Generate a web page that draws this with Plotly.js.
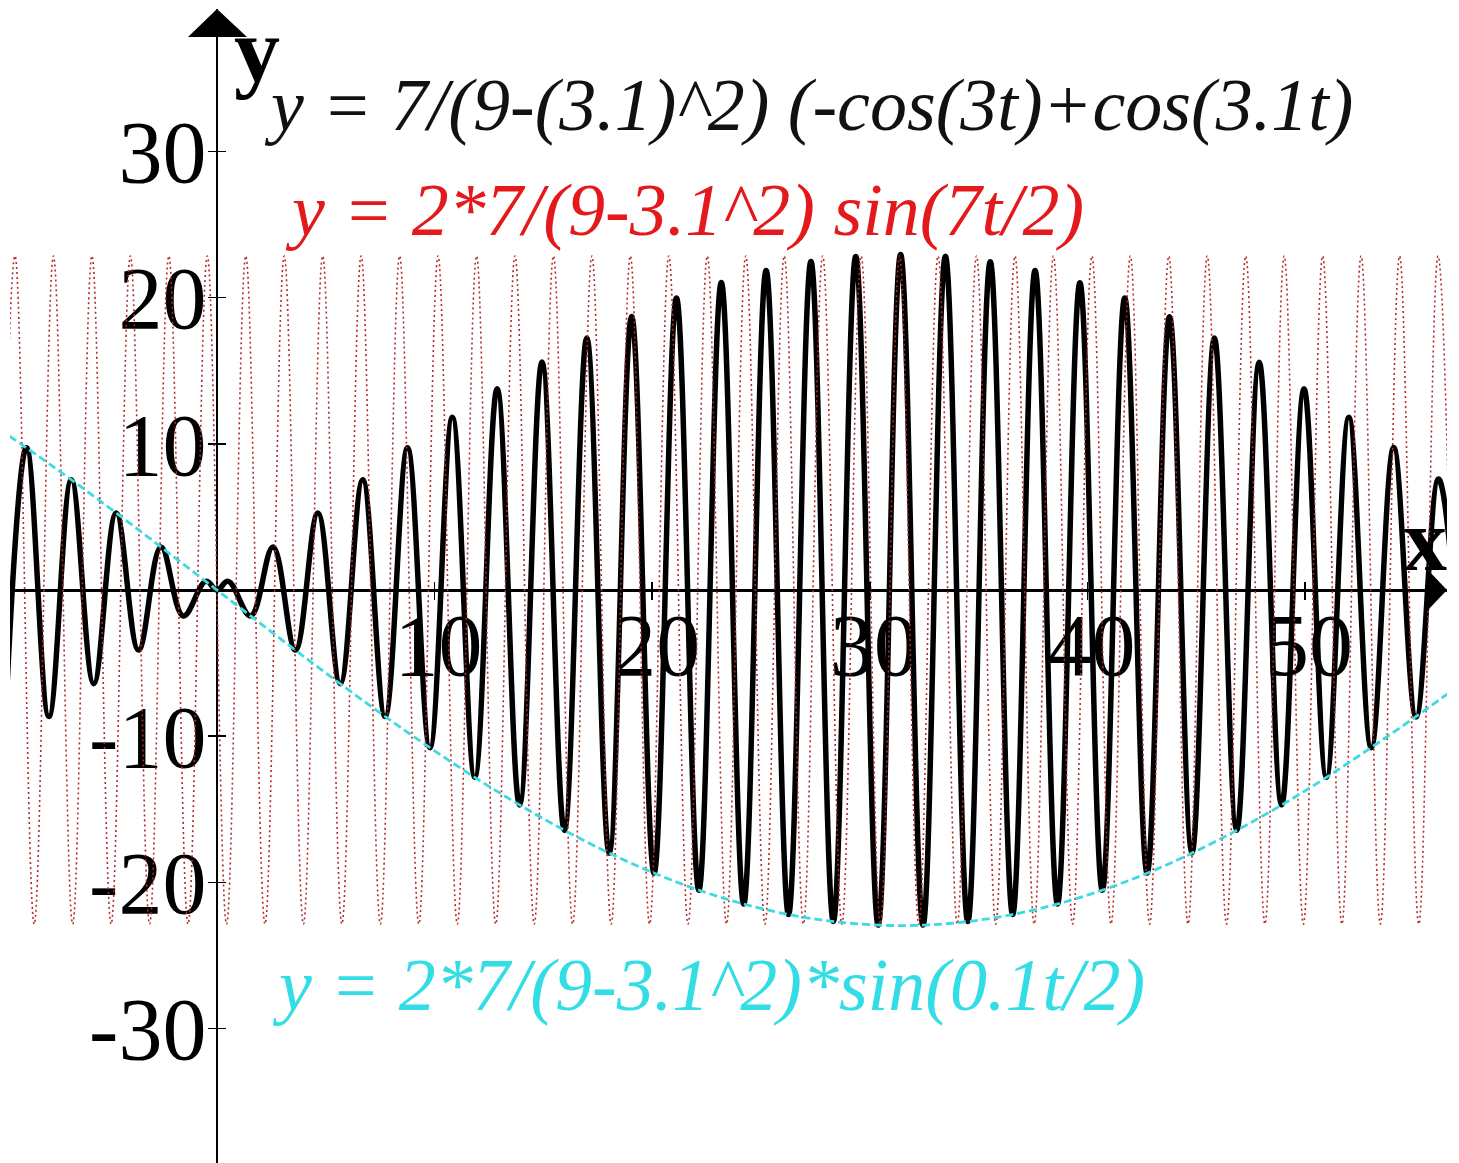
<!DOCTYPE html>
<html>
<head>
<meta charset="utf-8">
<script src="https://cdn.plot.ly/plotly-3.0.1.min.js"></script>
<style>html,body{margin:0;padding:0;background:#fff;}#chart{width:1459px;height:1163px;}</style>
</head>
<body>
<div id="chart"></div>
<script>
// Black curve: y = 7/(9-(3.1)^2) (-cos(3t)+cos(3.1t)) — extrema
const blackX = [-9.785, -8.755, -7.725, -6.695, -5.665, -4.635, -3.605, -2.575, -1.545, -0.515, 0, 0.515, 1.545, 2.575, 3.605, 4.635, 5.665, 6.695, 7.725, 8.755, 9.785, 10.815, 11.845, 12.875, 13.905, 14.935, 15.965, 16.995, 18.025, 19.055, 20.085, 21.115, 22.145, 23.175, 24.205, 25.235, 26.265, 27.295, 28.325, 29.355, 30.385, 31.415, 32.445, 33.475, 34.505, 35.535, 36.565, 37.595, 38.625, 39.655, 40.685, 41.715, 42.745, 43.775, 44.805, 45.835, 46.865, 47.895, 48.925, 49.955, 50.985, 52.015, 53.045, 54.075, 55.105, 56.135, 57.165];
const blackY = [-10.79, 9.73, -8.65, 7.54, -6.41, 5.27, -4.11, 2.95, -1.77, 0.59, 0, 0.59, -1.77, 2.95, -4.11, 5.27, -6.41, 7.54, -8.65, 9.73, -10.79, 11.82, -12.81, 13.77, -14.70, 15.59, -16.44, 17.24, -18.00, 18.71, -19.36, 19.98, -20.53, 21.03, -21.48, 21.86, -22.20, 22.47, -22.67, 22.82, -22.92, 22.95, -22.92, 22.83, -22.68, 22.46, -22.19, 21.86, -21.47, 21.02, -20.53, 19.97, -19.35, 18.69, -17.98, 17.23, -16.43, 15.58, -14.69, 13.76, -12.80, 11.81, -10.79, 9.75, -8.68, 7.59, -6.45];

// Red dotted curve: y = 2*7/(9-3.1^2) sin(7t/2) — extrema
const redX = [-10.167, -9.283, -8.400, -7.516, -6.632, -5.748, -4.865, -3.981, -3.097, -2.213, -1.330, -0.446, 0.438, 1.322, 2.205, 3.089, 3.973, 4.857, 5.740, 6.624, 7.508, 8.392, 9.275, 10.159, 11.043, 11.927, 12.810, 13.694, 14.578, 15.462, 16.345, 17.229, 18.113, 18.997, 19.880, 20.764, 21.648, 22.532, 23.415, 24.299, 25.183, 26.067, 26.950, 27.834, 28.718, 29.602, 30.485, 31.369, 32.253, 33.137, 34.020, 34.904, 35.788, 36.672, 37.555, 38.439, 39.323, 40.207, 41.090, 41.974, 42.858, 43.742, 44.625, 45.509, 46.393, 47.277, 48.160, 49.044, 49.928, 50.812, 51.695, 52.579, 53.463, 54.347, 55.230, 56.114, 56.998];
const redY = [-22.85, 22.85, -22.85, 22.85, -22.85, 22.85, -22.85, 22.85, -22.85, 22.85, -22.85, 22.85, -22.85, 22.85, -22.85, 22.85, -22.85, 22.85, -22.85, 22.85, -22.85, 22.85, -22.85, 22.85, -22.85, 22.85, -22.85, 22.85, -22.85, 22.85, -22.85, 22.85, -22.85, 22.85, -22.85, 22.85, -22.85, 22.85, -22.85, 22.85, -22.85, 22.85, -22.85, 22.85, -22.85, 22.85, -22.85, 22.85, -22.85, 22.85, -22.85, 22.85, -22.85, 22.85, -22.85, 22.85, -22.85, 22.85, -22.85, 22.85, -22.85, 22.85, -22.85, 22.85, -22.85, 22.85, -22.85, 22.85, -22.85, 22.85, -22.85, 22.85, -22.85, 22.85, -22.85, 22.85, -22.85];

// Cyan dashed envelope: y = 2*7/(9-3.1^2)*sin(0.1t/2)
const cyanX = [-10, -7.5, -5, -2.5, 0, 2.5, 5, 7.5, 10, 12.5, 15, 17.5, 20, 22.5, 25, 27.5, 30, 32.5, 35, 37.5, 40, 42.5, 45, 47.5, 50, 52.5, 55, 57.5];
const cyanY = [11.00, 8.41, 5.68, 2.86, 0, -2.86, -5.68, -8.41, -11.00, -13.43, -15.64, -17.61, -19.31, -20.71, -21.78, -22.51, -22.89, -22.92, -22.58, -21.90, -20.87, -19.52, -17.86, -15.92, -13.74, -11.32, -8.76, -6.07];

// Ticks
const xTickVals = [10, 20, 30, 40, 50];
const xTickText = ["10", "20", "30", "40", "50"];
const yTickVals = [-30, -20, -10, 10, 20, 30];
const yTickText = ["-30", "-20", "-10", "10", "20", "30"];

const xRange = [-9.513, 56.526];
const yRange = [-39.19, 39.74];

const serif = "Liberation Serif, Times New Roman, serif";

const traces = [
  {x: blackX, y: blackY, type: 'scatter', mode: 'lines',
   line: {color: '#000000', width: 5.5, shape: 'spline', smoothing: 1.1}, hoverinfo: 'skip', showlegend: false},
  {x: redX, y: redY, type: 'scatter', mode: 'lines',
   line: {color: '#b52a2a', width: 1.6, dash: '2px,3px', shape: 'spline', smoothing: 1.1}, hoverinfo: 'skip', showlegend: false},
  {x: cyanX, y: cyanY, type: 'scatter', mode: 'lines',
   line: {color: '#3cdbe2', width: 2.8, dash: '8px,4px', shape: 'spline', smoothing: 1}, hoverinfo: 'skip', showlegend: false},
  {x: [], y: [], type: 'scatter', mode: 'lines', xaxis: 'x2', yaxis: 'y2', hoverinfo: 'skip', showlegend: false}
];

const xPos = 0.4965;
const yPos = 0.14405;

const layout = {
  width: 1459, height: 1163,
  margin: {l: 10, r: 12, t: 9, b: 0, pad: 0},
  paper_bgcolor: '#ffffff', plot_bgcolor: '#ffffff',
  showlegend: false,
  xaxis: {
    range: xRange, anchor: 'free', position: xPos,
    showline: true, linecolor: '#000', linewidth: 2.5,
    ticks: 'outside', ticklen: 8, tickwidth: 1.5, tickcolor: '#000',
    tickvals: xTickVals, ticktext: xTickText,
    tickfont: {family: serif, size: 88, color: '#000'},
    ticklabelshift: 4, ticklabelstandoff: -30,
    showgrid: false, zeroline: false, layer: 'below traces', fixedrange: true
  },
  yaxis: {
    range: yRange, anchor: 'free', position: yPos,
    showline: true, linecolor: '#000', linewidth: 2.5,
    ticks: 'outside', ticklen: 8, tickwidth: 1.5, tickcolor: '#000',
    tickvals: yTickVals, ticktext: yTickText,
    tickfont: {family: serif, size: 88, color: '#000'},
    ticklabelstandoff: -16,
    showgrid: false, zeroline: false, layer: 'below traces', fixedrange: true
  },
  xaxis2: {
    range: xRange, overlaying: 'x', anchor: 'free', position: xPos,
    showline: false, ticks: 'inside', ticklen: 8, tickwidth: 1.5, tickcolor: '#000',
    tickvals: xTickVals, showticklabels: false, showgrid: false, zeroline: false, fixedrange: true
  },
  yaxis2: {
    range: yRange, overlaying: 'y', anchor: 'free', position: yPos,
    showline: false, ticks: 'inside', ticklen: 8, tickwidth: 1.5, tickcolor: '#000',
    tickvals: yTickVals, showticklabels: false, showgrid: false, zeroline: false, fixedrange: true
  },
  shapes: [
    {type: 'path', xref: 'x', xsizemode: 'pixel', xanchor: 0,
     yref: 'paper', ysizemode: 'pixel', yanchor: 1,
     path: 'M-29,-28 L0,0 L30,-28 Z', fillcolor: '#000', line: {width: 0}},
    {type: 'path', xref: 'paper', xsizemode: 'pixel', xanchor: 1,
     yref: 'y', ysizemode: 'pixel', yanchor: 0,
     path: 'M-20,21 L0,0 L-20,-21 Z', fillcolor: '#000', line: {width: 0}}
  ],
  annotations: [
    {text: 'y = 7/(9-(3.1)^2) (-cos(3t)+cos(3.1t)', xref: 'paper', yref: 'paper',
     x: 0.1754, y: 0.9168, xanchor: 'left', yanchor: 'middle', showarrow: false,
     font: {family: serif, size: 74, color: '#111111', style: 'italic'}},
    {text: 'y = 2*7/(9-3.1^2) sin(7t/2)', xref: 'paper', yref: 'paper',
     x: 0.19, y: 0.8258, xanchor: 'left', yanchor: 'middle', showarrow: false,
     font: {family: serif, size: 74, color: '#e3191c', style: 'italic'}},
    {text: 'y = 2*7/(9-3.1^2)*sin(0.1t/2)', xref: 'paper', yref: 'paper',
     x: 0.181, y: 0.1542, xanchor: 'left', yanchor: 'middle', showarrow: false,
     font: {family: serif, size: 74, color: '#33dde6', style: 'italic'}},
    {text: 'y', xref: 'paper', yref: 'paper',
     x: 0.1719, y: 0.9645, xanchor: 'center', yanchor: 'middle', showarrow: false,
     font: {family: serif, size: 92, color: '#000', weight: 'bold'}},
    {text: 'x', xref: 'paper', yref: 'paper',
     x: 0.9847, y: 0.539, xanchor: 'center', yanchor: 'middle', showarrow: false,
     font: {family: serif, size: 88, color: '#000', weight: 'bold'}}
  ]
};

Plotly.newPlot('chart', traces, layout, {staticPlot: true, displayModeBar: false});
</script>
</body>
</html>
